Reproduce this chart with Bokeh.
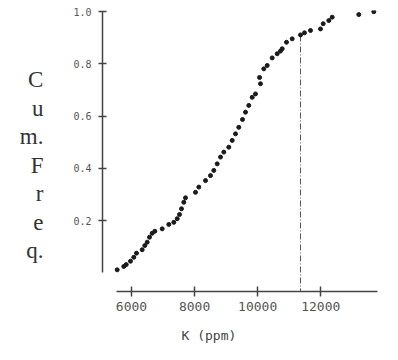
from bokeh.plotting import figure
from bokeh.models import Range1d, FixedTicker, PrintfTickFormatter, Title
from bokeh.embed import file_html
from bokeh.resources import INLINE

# Cumulative frequency of K (ppm)
k_ppm = [5547, 5756, 5832, 5968, 6073, 6159, 6339, 6422, 6498, 6571,
         6656, 6739, 6973, 7182, 7341, 7449, 7522, 7585, 7658, 7712,
         8029, 8134, 8346, 8504, 8609, 8717, 8822, 8926, 9084, 9192,
         9297, 9401, 9519, 9614, 9718, 9826, 9931, 10089, 10060, 10194,
         10302, 10460, 10619, 10723, 10777, 10913, 11094, 11357, 11484, 11674,
         11991, 12077, 12254, 12362, 13205, 13681]
cum_freq = [0.011, 0.024, 0.031, 0.044, 0.059, 0.075, 0.088, 0.104, 0.117, 0.136,
            0.151, 0.159, 0.168, 0.185, 0.193, 0.207, 0.223, 0.245, 0.270, 0.287,
            0.308, 0.328, 0.353, 0.372, 0.392, 0.417, 0.443, 0.462, 0.481, 0.507,
            0.532, 0.557, 0.587, 0.615, 0.641, 0.672, 0.685, 0.724, 0.748, 0.781,
            0.794, 0.823, 0.839, 0.849, 0.858, 0.883, 0.896, 0.911, 0.919, 0.928,
            0.934, 0.954, 0.966, 0.979, 0.989, 1.0]

# Reference (dash-dot) line
ref_x = 11357
ref_top = 0.909

x_ticks = [6000, 8000, 10000, 12000]
y_ticks = [0.2, 0.4, 0.6, 0.8, 1.0]
x_title = "K (ppm)"
y_title_letters = ["C", "u", "m.", "F", "r", "e", "q."]

x_lo, x_hi = 5081, 13798
y_lo, y_hi = -0.072, 1.0046

p = figure(width=390, height=356, output_backend="svg", toolbar_location=None,
           x_range=Range1d(x_lo, x_hi), y_range=Range1d(y_lo, y_hi),
           min_border_left=102, min_border_right=13, min_border_top=10,
           min_border_bottom=65)
p.outline_line_color = None
p.xgrid.visible = False
p.ygrid.visible = False
p.background_fill_color = "white"
p.border_fill_color = "white"

p.segment(x0=[ref_x], y0=[ref_top], x1=[ref_x], y1=[y_lo],
          line_color="#555555", line_width=1, line_dash="6 2 1 2")

p.scatter(k_ppm, cum_freq, marker="circle", size=4,
          fill_color="#1a1a1a", line_color="#1a1a1a")

# axes
xa = p.xaxis[0]
xa.ticker = FixedTicker(ticks=x_ticks)
xa.bounds = (5525, x_hi)
xa.axis_line_color = "#444444"
xa.axis_line_width = 1.5
xa.major_tick_line_color = "#444444"
xa.major_tick_line_width = 1.5
xa.major_tick_in = 5
xa.major_tick_out = 5
xa.minor_tick_line_color = None
xa.major_label_text_font = "DejaVu Sans Mono"
xa.major_label_text_font_size = "13px"
xa.major_label_text_color = "#555555"
xa.major_label_standoff = 5

ya = p.yaxis[0]
ya.ticker = FixedTicker(ticks=y_ticks)
ya.formatter = PrintfTickFormatter(format="%.1f")
ya.bounds = (0.0, 1.002)
ya.axis_line_color = "#444444"
ya.axis_line_width = 1.5
ya.major_tick_line_color = "#444444"
ya.major_tick_line_width = 1.5
ya.major_tick_in = 4
ya.major_tick_out = 4
ya.minor_tick_line_color = None
ya.major_label_text_font = "DejaVu Sans Mono"
ya.major_label_text_font_size = "10px"
ya.major_label_text_color = "#555555"
ya.major_label_standoff = 7

# stacked y title
ya.axis_label = "\n" + "\n".join(y_title_letters)
ya.axis_label_orientation = "horizontal"
ya.axis_label_text_font = "Liberation Serif"
ya.axis_label_text_font_style = "normal"
ya.axis_label_text_font_size = "23px"
ya.axis_label_text_color = "#333333"
ya.axis_label_text_line_height = 1.14
ya.axis_label_text_align = "center"
ya.axis_label_standoff = 27

# x title
p.add_layout(Title(text=x_title, align="left", offset=79, standoff=25,
                   text_font="DejaVu Sans Mono", text_font_size="13px",
                   text_font_style="normal", text_color="#444444"), "below")

open("out.html", "w").write(file_html(p, INLINE))
